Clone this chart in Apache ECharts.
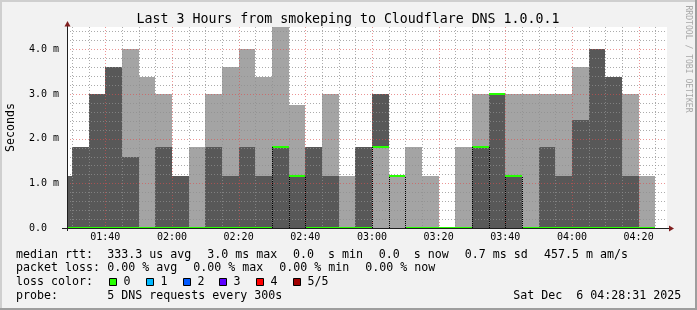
<!DOCTYPE html>
<html><head><meta charset="utf-8">
<script src="https://cdn.jsdelivr.net/npm/echarts@6/dist/echarts.min.js"></script>
<style>html,body{margin:0;padding:0;background:#f2f2f2}#c{width:697px;height:310px}</style>
</head><body><div id="c"></div>
<script>
// ---- data (5 sorted DNS samples per 5-minute slot, milliseconds) ----
const slotStart = ['01:25','01:30','01:35','01:40','01:45','01:50','01:55','02:00','02:05','02:10','02:15','02:20',
                   '02:25','02:30','02:35','02:40','02:45','02:50','02:55','03:00','03:05','03:10','03:15','03:20',
                   '03:25','03:30','03:35','03:40','03:45','03:50','03:55','04:00','04:05','04:10','04:15','04:20'];
const ping1 = [0,0,0,0,0,0,0,0,0,0,0,0, 0,0,0,0,0,0,0,0,0,0,0,0, 0,0,0,0,0,0,0,0,0,0,0,0];
const ping2 = [0,0,0,0,0,0,0,0,0,0,0,0, 0,0,0,0,0,0,0,1.82,1.17,0,0,0, 0,0,0,0,0,0,0,0,0,0,0,0];
const ping3 = [0,0,0,0,0,0,0,0,0,0,0,0, 0,1.82,1.17,0,0,0,0,1.82,1.17,0,0,0, 0,1.82,3.0,1.17,0,0,0,0,0,0,0,0]; // median
const ping4 = [1.17,1.82,3.0,3.6,1.58,0,1.82,1.17,0,1.82,1.17,1.82, 1.17,1.82,1.17,1.82,1.17,0,1.82,3.0,1.17,0,0,0,
               0,1.82,3.0,1.17,0,1.82,1.17,2.42,4.0,3.38,1.17,0];
const ping5 = [1.17,1.82,3.0,3.6,4.0,3.38,3.0,1.17,1.82,3.0,3.6,4.0, 3.38,4.5,2.75,1.82,3.0,1.17,1.82,3.0,1.17,1.82,1.17,0,
               1.82,3.0,3.0,3.0,3.0,3.0,3.0,3.6,4.0,3.38,3.0,1.17];
const slotMinutes = 5;
const startTime = '01:28:31', endTime = '04:28:31';
const xMajorLabels = ['01:40','02:00','02:20','02:40','03:00','03:20','03:40','04:00','04:20'];
const yTicks = [0,1,2,3,4];
const yMax = 4.5;

const LIGHT = '#a4a4a4', DARK = '#585858', GREEN = '#26ff00';
const MONO = '"DejaVu Sans Mono", monospace';

function toMin(s){ const p=s.split(':').map(Number); return p[0]*60+p[1]+(p[2]||0)/60; }
function fmt(m){ m=Math.round(m); const h=Math.floor(m/60), mm=m%60; return String(h).padStart(2,'0')+':'+String(mm).padStart(2,'0'); }
const xMin = toMin(startTime), xMax = toMin(endTime);

const smokeData = slotStart.map((s,i)=>[toMin(s), toMin(s)+slotMinutes, ping1[i], ping2[i], ping3[i], ping4[i], ping5[i]]);
const medianData = slotStart.map((s,i)=>[toMin(s), toMin(s)+slotMinutes, ping3[i]]);

// grid lines (minor every 5 min / 0.2 ms, major every 20 min / 1 ms)
const gridData = [];
for (let t = Math.ceil(xMin/5)*5; t < xMax; t += 5) gridData.push([t, 0, (t%20===0)?1:0, 0]);
for (let k = 1; k*0.2 < yMax; k++) { const v = +(k*0.2).toFixed(1); gridData.push([xMin, v, (k%5===0)?1:0, 1]); }

function renderSmoke(params, api){
  const x0 = Math.round(api.coord([api.value(0),0])[0]);
  const x1 = Math.round(api.coord([api.value(1),0])[0]);
  const ys = [2,3,4,5,6].map(d=>Math.round(api.coord([api.value(0), api.value(d)])[1]));
  const layers = [[ys[0],ys[1],LIGHT],[ys[1],ys[3],DARK],[ys[3],ys[4],LIGHT]];
  const children = [];
  layers.forEach(l=>{ if (l[0]>l[1]) children.push({type:'rect', shape:{x:x0,y:l[1],width:x1-x0,height:l[0]-l[1]}, style:{fill:l[2]}}); });
  return {type:'group', children};
}
function renderMedian(params, api){
  const i = params.dataIndex;
  const x0 = Math.round(api.coord([api.value(0),0])[0]);
  const x1 = Math.round(api.coord([api.value(1),0])[0]);
  const yc = Math.round(api.coord([api.value(0), api.value(2)])[1]);
  const children = [{type:'rect', shape:{x:x0,y:yc-1,width:x1-x0,height:2}, style:{fill:GREEN}}];
  const prev = i>0 ? ping3[i-1] : 0, cur = ping3[i];
  if (prev !== cur) {
    const top = (prev===0||cur===0) ? Math.max(prev,cur) : Math.min(prev,cur);
    const y0 = api.coord([api.value(0),0])[1], y1 = Math.round(api.coord([api.value(0),top])[1]);
    children.push({type:'line', shape:{x1:x0+0.5,y1:y0,x2:x0+0.5,y2:y1}, style:{stroke:'#000',lineWidth:1,lineDash:[1,1]}});
  }
  if (i===ping3.length-1 && cur>0) {}
  return {type:'group', children};
}
function renderGrid(params, api){
  const kind = api.value(2), orient = api.value(3);
  const col = kind ? 'rgba(222,79,79,0.6)' : 'rgba(143,143,143,0.75)';
  const top = api.coord([xMin, yMax])[1], bot = api.coord([xMin, 0])[1];
  const left = api.coord([xMin, 0])[0], right = api.coord([xMax, 0])[0];
  let shape;
  if (orient===0) { const x = Math.round(api.coord([api.value(0),0])[0]) + 0.5; shape={x1:x,y1:top,x2:x,y2:bot}; }
  else { const y = Math.round(api.coord([xMin, api.value(1)])[1]) + 0.5; shape={x1:left,y1:y,x2:right,y2:y}; }
  return {type:'line', shape, style:{stroke:col, lineWidth:1, lineDash:[1,2]}};
}

function txt(text, x, y, size, extra){
  return Object.assign({type:'text', x, y, z:100, silent:true,
    style:{text, fill:'#000', font: size+'px '+MONO, fontSize:size, fontFamily:MONO,
      align:'left', verticalAlign:'middle', textAlign:'left', textVerticalAlign:'middle'}}, extra||{});
}
const legendY = [254.5, 268, 282, 296];
const lossColors = ['#26ff00','#00b8ff','#0059ff','#5e00ff','#ff0000','#a00000'];
const lossLabels = ['0','1','2','3','4','5/5'];
const graphics = [
  {type:'rect', shape:{x:0,y:0,width:697,height:2}, style:{fill:'#cfcfcf'}, z:100},
  {type:'rect', shape:{x:0,y:0,width:2,height:310}, style:{fill:'#cfcfcf'}, z:100},
  {type:'rect', shape:{x:0,y:308,width:697,height:2}, style:{fill:'#9e9e9e'}, z:100},
  {type:'rect', shape:{x:695,y:0,width:2,height:310}, style:{fill:'#9e9e9e'}, z:100},
  {type:'line', shape:{x1:62,y1:228.5,x2:669,y2:228.5}, style:{stroke:'#1f1f1f',lineWidth:1}, z:100},
  {type:'line', shape:{x1:67.5,y1:231,x2:67.5,y2:26}, style:{stroke:'#1f1f1f',lineWidth:1}, z:100},
  {type:'polygon', shape:{points:[[669,225.5],[674,228.5],[669,231.5]]}, style:{fill:'#801f1f'}, z:100},
  {type:'polygon', shape:{points:[[64.5,26.5],[67.5,21],[70.5,26.5]]}, style:{fill:'#801f1f'}, z:100},
  Object.assign(txt('Last 3 Hours from smokeping to Cloudflare DNS 1.0.0.1', 348, 19.5, 13.25), {}),
  txt('Seconds', 11, 127.5, 11.6, {rotation: Math.PI/2}),
  txt('RRDTOOL / TOBI OETIKER', 688, 59, 8.1, {rotation: -Math.PI/2}),
  txt('median rtt:', 16, legendY[0], 11.63),
  txt('333.3 us avg', 107.3, legendY[0], 11.63),
  txt('3.0 ms max', 207.3, legendY[0], 11.63),
  txt('0.0  s min', 293, legendY[0], 11.63),
  txt('0.0  s now', 378.7, legendY[0], 11.63),
  txt('0.7 ms sd', 464.7, legendY[0], 11.63),
  txt('457.5 m am/s', 544, legendY[0], 11.63),
  txt('packet loss:', 16, legendY[1], 11.63),
  txt('0.00 % avg', 107.3, legendY[1], 11.63),
  txt('0.00 % max', 193.3, legendY[1], 11.63),
  txt('0.00 % min', 279.3, legendY[1], 11.63),
  txt('0.00 % now', 365.3, legendY[1], 11.63),
  txt('loss color:', 16, legendY[2], 11.63),
  txt('probe:', 16, legendY[3], 11.63),
  txt('5 DNS requests every 300s', 107.3, legendY[3], 11.63),
  txt('Sat Dec  6 04:28:31 2025', 513.3, legendY[3], 11.63)
];
// fix title centering
graphics[8].style.align = 'center'; graphics[8].style.textAlign = 'center';
graphics[9].style.align = 'center'; graphics[9].style.textAlign = 'center';
graphics[10].style.align = 'center'; graphics[10].style.textAlign = 'center'; graphics[10].style.fill = '#a8a8a8';
lossColors.forEach((c,k)=>{
  const bx = 109 + k*36.8;
  graphics.push({type:'rect', shape:{x:Math.round(bx)+0.5,y:278.5,width:7,height:7}, style:{fill:c, stroke:'#000', lineWidth:1}, z:100});
  graphics.push(txt(lossLabels[k], Math.round(bx)+14.5, legendY[2], 11.63));
});

const chart = echarts.init(document.getElementById('c'), null, {renderer:'canvas'});
chart.setOption({
  animation:false,
  backgroundColor:'#f2f2f2',
  grid:{left:67, top:27, width:600, height:201, show:true, backgroundColor:'#ffffff', borderWidth:0, containLabel:false},
  xAxis:{type:'value', min:xMin, max:xMax, z:10,
    axisLine:{show:true, lineStyle:{color:'#1f1f1f'}}, axisTick:{show:false}, splitLine:{show:false},
    axisLabel:{customValues: xMajorLabels.map(toMin), formatter:v=>fmt(v), fontFamily:MONO, fontSize:10, color:'#000', margin:4}},
  yAxis:{type:'value', min:0, max:yMax, interval:1, z:10,
    axisLine:{show:true, lineStyle:{color:'#1f1f1f'}}, axisTick:{show:false}, splitLine:{show:false},
    axisLabel:{showMaxLabel:false, formatter:v=> v===0 ? '0.0  ' : v.toFixed(1)+' m', fontFamily:MONO, fontSize:10, color:'#000', margin:8}},
  series:[
    {type:'custom', name:'smoke', renderItem:renderSmoke, data:smokeData, clip:true, z:2, silent:true,
      encode:{x:[0,1], y:[2,3,4,5,6]}},
    {type:'custom', name:'grid', renderItem:renderGrid, data:gridData, clip:true, z:3, silent:true,
      encode:{x:0, y:1}},
    {type:'custom', name:'median', renderItem:renderMedian, data:medianData, clip:true, z:4, silent:true,
      encode:{x:[0,1], y:2}}
  ],
  graphic:graphics
});
</script></body></html>
